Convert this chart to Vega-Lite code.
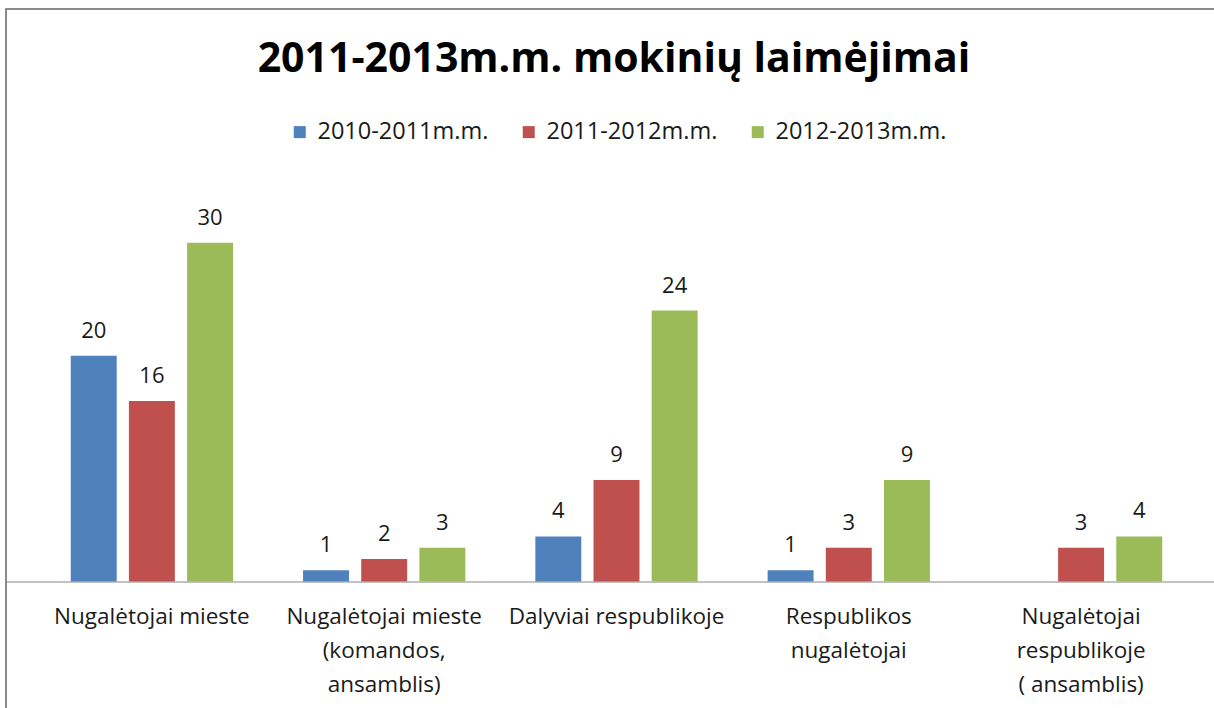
{
  "$schema": "https://vega.github.io/schema/vega-lite/v6.json",
  "width": 1216,
  "height": 720,
  "autosize": {"type": "none"},
  "padding": {"left": 6, "top": 9, "right": 0, "bottom": 0},
  "background": "white",
  "title": {
    "text": "2011-2013m.m. mokinių laimėjimai",
    "font": "Open Sans",
    "fontSize": 41,
    "fontWeight": "bold",
    "color": "#000000",
    "offset": -72,
    "anchor": "middle"
  },
  "config": {
    "view": {"stroke": "#8a8a8a", "strokeWidth": 2},
    "font": "Open Sans"
  },
  "data": {
    "values": [
      {"category": "Nugalėtojai mieste", "season": "2010-2011m.m.", "value": 20},
      {"category": "Nugalėtojai mieste", "season": "2011-2012m.m.", "value": 16},
      {"category": "Nugalėtojai mieste", "season": "2012-2013m.m.", "value": 30},
      {"category": "Nugalėtojai mieste|(komandos,|ansamblis)", "season": "2010-2011m.m.", "value": 1},
      {"category": "Nugalėtojai mieste|(komandos,|ansamblis)", "season": "2011-2012m.m.", "value": 2},
      {"category": "Nugalėtojai mieste|(komandos,|ansamblis)", "season": "2012-2013m.m.", "value": 3},
      {"category": "Dalyviai respublikoje", "season": "2010-2011m.m.", "value": 4},
      {"category": "Dalyviai respublikoje", "season": "2011-2012m.m.", "value": 9},
      {"category": "Dalyviai respublikoje", "season": "2012-2013m.m.", "value": 24},
      {"category": "Respublikos|nugalėtojai", "season": "2010-2011m.m.", "value": 1},
      {"category": "Respublikos|nugalėtojai", "season": "2011-2012m.m.", "value": 3},
      {"category": "Respublikos|nugalėtojai", "season": "2012-2013m.m.", "value": 9},
      {"category": "Nugalėtojai|respublikoje|( ansamblis)", "season": "2011-2012m.m.", "value": 3},
      {"category": "Nugalėtojai|respublikoje|( ansamblis)", "season": "2012-2013m.m.", "value": 4}
    ]
  },
  "encoding": {
    "x": {
      "field": "category",
      "type": "nominal",
      "sort": null,
      "scale": {"paddingInner": 0.3013, "paddingOuter": 0.268, "align": 0.52},
      "axis": {
        "title": null,
        "ticks": false,
        "domainColor": "#868686",
        "domainWidth": 1,
        "labelAngle": 0,
        "labelFont": "Open Sans",
        "labelFontSize": 22.5,
        "labelColor": "#1a1a1a",
        "labelPadding": 24,
        "labelLineHeight": 34,
        "labelLimit": 500,
        "labelOverlap": false,
        "labelBound": false,
        "labelExpr": "split(datum.label, '|')",
        "offset": -147.5
      }
    },
    "xOffset": {
      "field": "season",
      "type": "nominal",
      "scale": {"paddingInner": 0.21, "paddingOuter": 0}
    },
    "y": {
      "field": "value",
      "type": "quantitative",
      "scale": {"domain": [-13.06, 50.71], "nice": false, "zero": false},
      "axis": null
    }
  },
  "layer": [
    {
      "mark": {"type": "bar"},
      "encoding": {
        "y2": {"datum": 0},
        "color": {
          "field": "season",
          "type": "nominal",
          "scale": {
            "domain": ["2010-2011m.m.", "2011-2012m.m.", "2012-2013m.m."],
            "range": ["#4F81BD", "#C0504D", "#9BBB59"]
          },
          "legend": {
            "orient": "none",
            "legendX": 282,
            "legendY": 111,
            "direction": "horizontal",
            "title": null,
            "symbolType": "square",
            "symbolSize": 144,
            "symbolStrokeWidth": 0,
            "symbolOpacity": 1,
            "labelFont": "Open Sans",
            "labelFontSize": 23.5,
            "labelColor": "#1a1a1a",
            "labelOffset": 6,
            "columnPadding": 28,
            "labelLimit": 400
          }
        }
      }
    },
    {
      "mark": {"type": "text", "dy": -18, "baseline": "alphabetic", "fontSize": 22, "font": "Open Sans", "color": "#1a1a1a"},
      "encoding": {
        "text": {"field": "value", "type": "quantitative"}
      }
    }
  ]
}
